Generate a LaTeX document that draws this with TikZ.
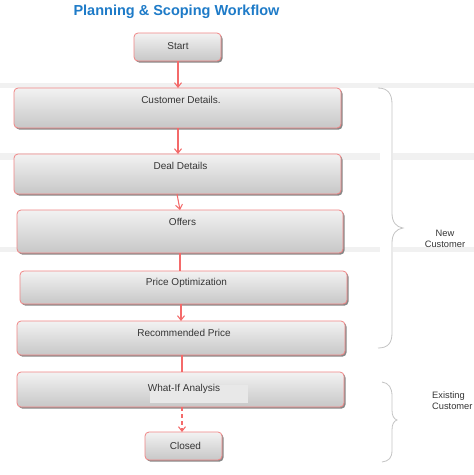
\documentclass[tikz,border=0pt]{standalone}
\usepackage{fontspec}
\setmainfont{Liberation Sans}
\usetikzlibrary{arrows.meta,shadows}
\definecolor{boxred}{HTML}{F08585}
\definecolor{linered}{HTML}{F46A6A}
\definecolor{titleblue}{HTML}{1E7BC8}
\definecolor{bandgray}{HTML}{F1F1F1}
\definecolor{bracegray}{HTML}{C4C4C4}
\definecolor{txtgray}{HTML}{353535}
\tikzset{
  flowbox/.style={draw=boxred, line width=0.8pt, rounded corners=4pt,
    top color=white!95!black, bottom color=black!22,
    drop shadow={shadow xshift=1.5pt, shadow yshift=-1.6pt, fill=black!55, opacity=0.85},
    inner sep=0pt},
  boxtext/.style={font=\fontsize{10}{11}\selectfont, text=txtgray, inner sep=0pt},
  conn/.style={color=linered, line width=1.05pt},
  arr/.style={conn, -{Straight Barb[length=4.5pt,width=7pt,color=linered]}},
  bracel/.style={draw=bracegray, line width=0.8pt},
  sidetext/.style={font=\fontsize{9.3}{11}\selectfont, text=txtgray, inner sep=0pt}
}
\begin{document}
\begin{tikzpicture}[x=1pt,y=-1pt]
\fill[white] (0,0) rectangle (474,475);
\useasboundingbox (0,0) rectangle (474,475);
% faint bands
\fill[bandgray] (0,83) rectangle (474,88);
\fill[bandgray] (0,153) rectangle (380,160);
\fill[bandgray] (393,153) rectangle (474,160);
\fill[bandgray] (0,247) rectangle (380,252);
\fill[bandgray] (393,247) rectangle (474,252);
% title
\node[font=\bfseries\fontsize{14.5}{16}\selectfont, text=titleblue, inner sep=0pt] (title) at (176.5,12) {Planning \& Scoping Workflow};
% boxes
\node[flowbox, minimum width=87pt, minimum height=28pt] (start) at (177.5,47) {};
\node[flowbox, minimum width=327pt, minimum height=40pt] (cust) at (177.5,108) {};
\node[flowbox, minimum width=327pt, minimum height=40pt] (deal) at (177.5,174) {};
\node[flowbox, minimum width=326pt, minimum height=43pt] (offers) at (180,231.5) {};
\node[flowbox, minimum width=327pt, minimum height=33pt] (popt) at (183.5,287.5) {};
\node[flowbox, minimum width=328pt, minimum height=34pt] (rec) at (181,338) {};
\node[flowbox, minimum width=327pt, minimum height=35pt] (whatif) at (180.5,389.5) {};
\fill[white!91!black] (150,385) rectangle (248,403);
\node[flowbox, minimum width=77pt, minimum height=28pt] (closed) at (183.5,446) {};
% texts
\node[boxtext] (tstart) at (178,46) {Start};
\node[boxtext] (tcust) at (181,100) {Customer Details.};
\node[boxtext] (tdeal) at (180.5,166) {Deal Details};
\node[boxtext] (toffers) at (182.5,222) {Offers};
\node[boxtext] (tpopt) at (186.5,283) {Price Optimization};
\node[boxtext] (trec) at (184,333) {Recommended Price};
\node[boxtext] (twhatif) at (184,389) {What-If Analysis};
\node[boxtext] (tclosed) at (185.5,446) {Closed};
% connector anchor points
\coordinate (a1) at (178,61);  \coordinate (b1) at (178,88);
\coordinate (a2) at (178,128); \coordinate (b2) at (178,154);
\coordinate (a3) at (177,194); \coordinate (b3) at (180,210);
\coordinate (a4) at (180,253); \coordinate (b4) at (180,271);
\coordinate (a5) at (181,304); \coordinate (b5) at (181,321);
\coordinate (a6) at (182,355); \coordinate (b6) at (182,372);
\coordinate (a7) at (182,407); \coordinate (b7) at (182,432);
\draw[arr] (a1) -- (b1);
\draw[arr] (a2) -- (b2);
\draw[arr] (a3) -- (b3);
\draw[conn] (a4) -- (b4);
\draw[arr] (a5) -- (b5);
\draw[conn] (a6) -- (b6);
\draw[arr, dash pattern=on 4pt off 3pt] (a7) -- (b7);
% braces
\draw[bracel] (378,88) .. controls (388,88) and (392,94) .. (392,104) -- (392,213)
  .. controls (392,222) and (396,227) .. (403,228)
  .. controls (396,229) and (392,234) .. (392,243) -- (392,333)
  .. controls (392,343) and (388,348) .. (378,348);
\draw[bracel] (382,382) .. controls (389,383) and (392,388) .. (392,396) -- (392,410)
  .. controls (392,416) and (394,419) .. (397,420)
  .. controls (394,421) and (392,424) .. (392,430) -- (392,450)
  .. controls (392,458) and (389,461) .. (382,462);
\node[sidetext, align=center] (newc) at (445,238.5) {New\\Customer};
\node[sidetext, align=left, anchor=west] (exist) at (432,401) {Existing\\Customer};
\end{tikzpicture}
\end{document}
